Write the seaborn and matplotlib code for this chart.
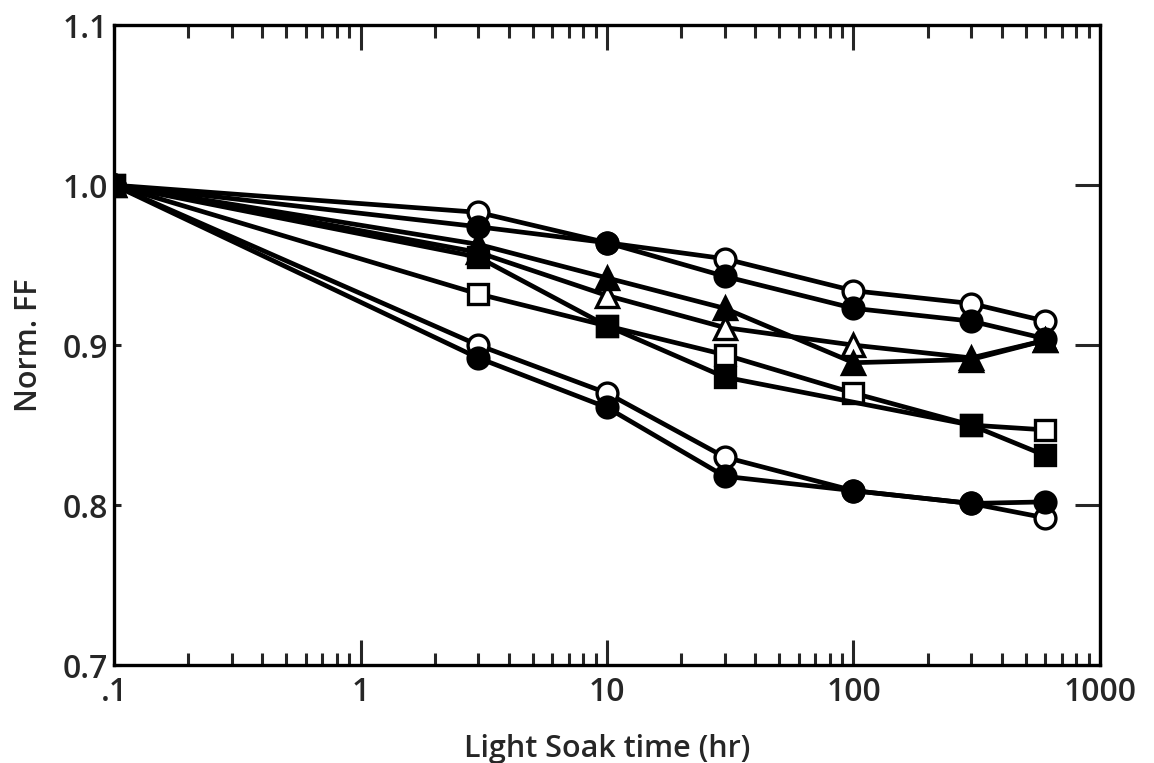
import numpy as np
import pandas as pd
import matplotlib
matplotlib.use("Agg")
import matplotlib.pyplot as plt
import seaborn as sns
from matplotlib.ticker import FixedLocator, FixedFormatter, LogLocator, NullFormatter

# ---- data ----
hours = [0.1, 3, 10, 30, 100, 300, 600]
open_circle_top = [1.0, 0.983, 0.964, 0.954, 0.934, 0.926, 0.915]
filled_circle_top = [1.0, 0.974, 0.964, 0.943, 0.923, 0.915, 0.904]
open_triangle = [1.0, 0.958, 0.931, 0.911, 0.900, 0.892, 0.903]
open_square = [1.0, 0.932, 0.912, 0.894, 0.870, 0.850, 0.847]
filled_square = [1.0, 0.955, 0.912, 0.880, np.nan, 0.850, 0.831]
filled_triangle = [1.0, 0.963, 0.942, 0.923, 0.889, 0.891, 0.903]
open_circle_bottom = [1.0, 0.900, 0.870, 0.830, 0.809, 0.801, 0.792]
filled_circle_bottom = [1.0, 0.892, 0.861, 0.818, 0.809, 0.801, 0.802]

x_tick_values = [0.1, 1, 10, 100, 1000]
x_tick_labels = [".1", "1", "10", "100", "1000"]
y_tick_values = [0.7, 0.8, 0.9, 1.0, 1.1]
y_tick_labels = ["0.7", "0.8", "0.9", "1.0", "1.1"]

series = [
    (open_circle_top, "o", "white"),
    (filled_circle_top, "o", "black"),
    (open_triangle, "^", "white"),
    (open_square, "s", "white"),
    (filled_square, "s", "black"),
    (filled_triangle, "^", "black"),
    (open_circle_bottom, "o", "white"),
    (filled_circle_bottom, "o", "black"),
]

sns.set_style("ticks")
plt.rcParams["font.family"] = ["Open Sans", "DejaVu Sans"]

fig = plt.figure(figsize=(11.54, 7.63), dpi=100)
ax = fig.add_axes([0.0988, 0.1284, 0.9532 - 0.0988, 0.967 - 0.1284])
ax.set_xscale("log")

msize = {"o": 15, "^": 16, "s": 14}
for vals, mk, face in series:
    df = pd.DataFrame({"hours": hours, "ff": vals}).dropna()
    sns.lineplot(data=df, x="hours", y="ff", ax=ax, color="black",
                 linewidth=3.4, marker=mk, markersize=msize[mk],
                 markerfacecolor=face, markeredgecolor="black",
                 markeredgewidth=2.4, estimator=None, sort=False)

ax.set_xlim(0.1, 1000)
ax.set_ylim(0.7, 1.1)

ax.xaxis.set_major_locator(FixedLocator(x_tick_values))
ax.xaxis.set_major_formatter(FixedFormatter(x_tick_labels))
ax.xaxis.set_minor_locator(LogLocator(base=10, subs=np.arange(2, 10), numticks=20))
ax.xaxis.set_minor_formatter(NullFormatter())
ax.yaxis.set_major_locator(FixedLocator(y_tick_values))
ax.yaxis.set_major_formatter(FixedFormatter(y_tick_labels))

for s in ax.spines.values():
    s.set_linewidth(2.4)
    s.set_color("black")

ax.tick_params(axis="x", which="major", direction="in", length=18, width=2.2,
               top=True, bottom=True, labelsize=23, pad=8)
ax.tick_params(axis="x", which="minor", direction="in", length=9, width=2.2,
               top=True, bottom=True)
ax.tick_params(axis="y", which="major", direction="in", length=5, width=2.2,
               left=True, right=True, labelsize=23, pad=4)
for t in ax.yaxis.get_major_ticks():
    t.tick2line.set_markersize(18)
for lab in ax.get_xticklabels() + ax.get_yticklabels():
    lab.set_fontweight("semibold")

ax.set_xlabel("Light Soak time (hr)", fontsize=22, labelpad=18, fontweight="semibold")
ax.set_ylabel("Norm. FF", fontsize=22, labelpad=14, fontweight="semibold")
ax.grid(False)

fig.savefig("out.png", dpi=100, facecolor="white")
